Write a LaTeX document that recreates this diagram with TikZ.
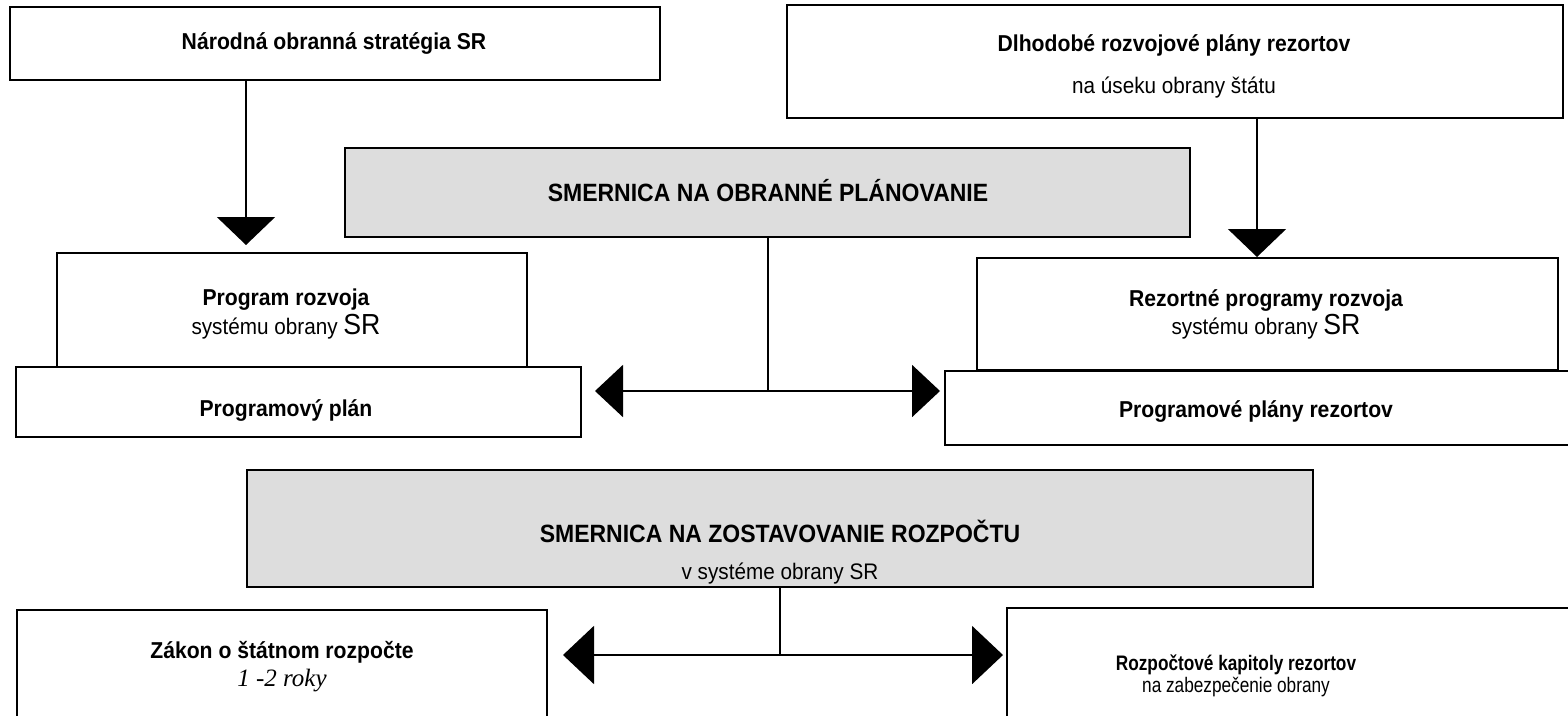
\documentclass[tikz,border=0pt]{standalone}
\usepackage{fontspec}
\setmainfont{Liberation Sans}[FakeStretch=0.92]
\newfontfamily\narrowsans{Liberation Sans}[FakeStretch=0.82]
\newfontfamily\serifit{Liberation Serif}
\usetikzlibrary{arrows.meta}
\definecolor{boxgray}{RGB}{221,221,221}
\begin{document}
\begin{tikzpicture}[x=1pt,y=-1pt,
  plainbox/.style={draw=black,line width=2.2pt,fill=white},
  graybox/.style={draw=black,line width=2.2pt,fill=boxgray},
  lbl/.style={inner sep=0pt,anchor=center,font=\fontsize{22.5}{26}\selectfont},
  blbl/.style={inner sep=0pt,anchor=center,font=\fontsize{23}{26}\selectfont\bfseries},
  slbl/.style={inner sep=0pt,anchor=center,font=\narrowsans\fontsize{21}{24}\selectfont},
  sblbl/.style={inner sep=0pt,anchor=center,font=\narrowsans\fontsize{21}{24}\selectfont\bfseries},
  hlbl/.style={inner sep=0pt,anchor=center,font=\fontsize{25}{28}\selectfont\bfseries},
  conn/.style={line width=2pt},
  bigarrow/.style={line width=2pt,-{Triangle[length=28pt,width=58pt]}},
  bigarrowh/.style={line width=2pt,-{Triangle[length=28pt,width=52pt]}},
  bigarrowl/.style={line width=2pt,-{Triangle[length=31pt,width=58pt]}}]
\useasboundingbox (0,0) rectangle (1568,715);
\clip (0,0) rectangle (1568,715);
\fill[white] (0,0) rectangle (1568,715);

% top boxes
\draw[plainbox] (10,7) rectangle (660,80);
\node[inner sep=0pt] (box1) at (335,43.5) [minimum width=650pt,minimum height=73pt] {};
\node[blbl] (t1) at (334,44) {Národná obranná stratégia SR};

\draw[plainbox] (787,5) rectangle (1563,118);
\node[inner sep=0pt] (box2) at (1175,61.5) [minimum width=776pt,minimum height=113pt] {};
\node[blbl] (t2a) at (1174,45) {Dlhodobé rozvojové plány rezortov};
\node[lbl] (t2b) at (1174,88) {na úseku obrany štátu};

% smernica 1
\draw[graybox] (345,148) rectangle (1190,237);
\node[inner sep=0pt] (box3) at (767.5,192.5) [minimum width=845pt,minimum height=89pt] {};
\node[hlbl] (t3) at (768,191) {SMERNICA NA OBRANNÉ PLÁNOVANIE};

% left program boxes
\draw[plainbox] (57,253) rectangle (527,368);
\node[inner sep=0pt] (box4) at (292,310.5) [minimum width=470pt,minimum height=115pt] {};
\node[blbl] (t4a) at (286,300) {Program rozvoja};
\node[lbl] (t4b) at (286,327) {systému obrany {\fontsize{29}{30}\selectfont SR}};

\draw[plainbox] (16,367) rectangle (581,437);
\node[inner sep=0pt] (box5) at (298.5,402) [minimum width=565pt,minimum height=70pt] {};
\node[blbl] (t5) at (286,410) {Programový plán};

% right program boxes
\draw[plainbox] (977,258) rectangle (1558,370);
\node[inner sep=0pt] (box6) at (1267.5,314) [minimum width=581pt,minimum height=112pt] {};
\node[blbl] (t6a) at (1266,300) {Rezortné programy rozvoja};
\node[lbl] (t6b) at (1266,327) {systému obrany {\fontsize{29}{30}\selectfont SR}};

\draw[plainbox] (945,371) rectangle (1575,445);
\node[inner sep=0pt] (box7) at (1260,408) [minimum width=630pt,minimum height=74pt] {};
\node[blbl] (t7) at (1256,411) {Programové plány rezortov};

% smernica 2
\draw[graybox] (247,470) rectangle (1313,587);
\node[inner sep=0pt] (box8) at (780,528.5) [minimum width=1066pt,minimum height=117pt] {};
\node[hlbl] (t8a) at (780,531) {SMERNICA NA ZOSTAVOVANIE ROZPOČTU};
\node[lbl] (t8b) at (780,574) {v systéme obrany SR};

% bottom boxes
\draw[plainbox] (17,610) rectangle (547,740);
\node[inner sep=0pt] (box9) at (282,675) [minimum width=530pt,minimum height=130pt] {};
\node[blbl] (t9a) at (282,652) {Zákon o štátnom rozpočte};
\node[inner sep=0pt,font=\fontsize{25}{28}\selectfont\serifit\itshape] (t9b) at (282,681) {1 -2 roky};

\draw[plainbox] (1007,608) rectangle (1590,740);
\node[inner sep=0pt] (box10) at (1298,674) [minimum width=583pt,minimum height=132pt] {};
\node[sblbl] (t10a) at (1236,665) {Rozpočtové kapitoly rezortov};
\node[slbl] (t10b) at (1236,687) {na zabezpečenie obrany};

% connectors
\coordinate (a1tip) at (246,245);
\draw[bigarrow] (box1.south -| a1tip) -- (a1tip);
\coordinate (a2tip) at (1257,257);
\draw[bigarrow] (box2.south -| a2tip) -- (a2tip);

\coordinate (h1L) at (595,391);
\coordinate (h1R) at (940,391);
\coordinate (j1) at (box3.south |- h1L);
\draw[conn] (box3.south) -- (j1);
\draw[bigarrowh] (j1) -- (h1L);
\draw[bigarrowh] (j1) -- (h1R);

\coordinate (h2L) at (563,655);
\coordinate (h2R) at (1003,655);
\coordinate (j2) at (box8.south |- h2L);
\draw[conn] (box8.south) -- (j2);
\draw[bigarrowl] (j2) -- (h2L);
\draw[bigarrowl] (j2) -- (h2R);
\end{tikzpicture}
\end{document}
